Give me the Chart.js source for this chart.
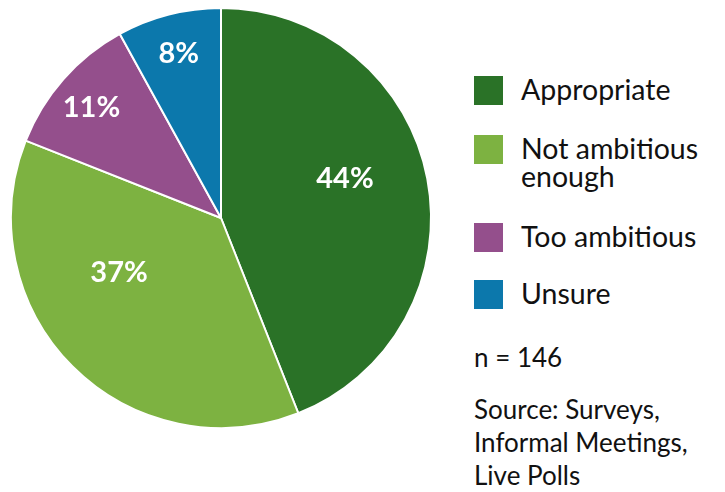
<!DOCTYPE html>
<html>
<head>
<meta charset="utf-8">
<script src="https://cdn.jsdelivr.net/npm/chart.js@4"></script>
<style>
  body { margin: 0; background: #fff; width: 725px; height: 492px; overflow: hidden; font-family: Lato, sans-serif; }
  #wrap { position: absolute; left: 0; top: 0; width: 442px; height: 436px; }
  #legend { position: absolute; left: 474px; top: 0; color: #111; font-size: 28.5px; }
  .item { position: absolute; left: 0; white-space: nowrap; line-height: 29px; }
  .box { position: absolute; left: 0; width: 29px; height: 29px; }
  .txt { position: absolute; left: 47px; }
  .note { position: absolute; left: 0; white-space: nowrap; line-height: 33px; font-size: 26px; }
</style>
</head>
<body>
<div id="wrap"><canvas id="myChart"></canvas></div>
<div id="legend"></div>
<script>
// dados
var categorias = ['Appropriate', 'Not ambitious enough', 'Too ambitious', 'Unsure'];
var legendaLinhas = [['Appropriate'], ['Not ambitious', 'enough'], ['Too ambitious'], ['Unsure']];
var valores = [44, 37, 11, 8];
var rotulos = ['44%', '37%', '11%', '8%'];
var cores = ['#2a7227', '#7db241', '#944f8c', '#0c78ac'];
var nota = 'n = 146';
var fonte = ['Source: Surveys,', 'Informal Meetings,', 'Live Polls'];

// onde fica cada rotulo (fracao do raio e ajuste de angulo em graus)
var rotuloRaio = [0.62, 0.55, 0.81, 0.81];
var rotuloAjuste = [-7, 17, -1, 0];

var rotulosPlugin = {
  id: 'rotulos',
  afterDatasetsDraw: function (chart) {
    var ctx = chart.ctx;
    var meta = chart.getDatasetMeta(0);
    ctx.save();
    ctx.fillStyle = '#fff';
    ctx.font = 'bold 29px Lato, sans-serif';
    ctx.textAlign = 'center';
    ctx.textBaseline = 'middle';
    for (var i = 0; i < meta.data.length; i++) {
      var arc = meta.data[i];
      var ang = (arc.startAngle + arc.endAngle) / 2 + rotuloAjuste[i] * Math.PI / 180;
      var r = arc.outerRadius * rotuloRaio[i];
      ctx.fillText(rotulos[i], arc.x + Math.cos(ang) * r, arc.y + Math.sin(ang) * r);
    }
    ctx.restore();
  }
};

var ctx = document.getElementById('myChart').getContext('2d');
var chart = new Chart(ctx, {
  type: 'pie',
  data: {
    labels: categorias,
    datasets: [{
      data: valores,
      backgroundColor: cores,
      borderColor: '#fff',
      borderWidth: 2
    }]
  },
  options: {
    responsive: true,
    maintainAspectRatio: false,
    animation: false,
    layout: { padding: 7 },
    plugins: {
      legend: { display: false },
      tooltip: { enabled: false }
    }
  },
  plugins: [rotulosPlugin]
});

// legenda
var leg = document.getElementById('legend');
var topos = [[76], [135, 163], [223], [280]];
for (var i = 0; i < categorias.length; i++) {
  var box = document.createElement('div');
  box.className = 'box';
  box.style.top = topos[i][0] + 'px';
  box.style.background = cores[i];
  leg.appendChild(box);
  for (var j = 0; j < legendaLinhas[i].length; j++) {
    var t = document.createElement('div');
    t.className = 'item txt';
    t.style.top = (topos[i][j] - 1) + 'px';
    t.textContent = legendaLinhas[i][j];
    leg.appendChild(t);
  }
}
var n = document.createElement('div');
n.className = 'note';
n.style.top = '341px';
n.textContent = nota;
leg.appendChild(n);
for (var k = 0; k < fonte.length; k++) {
  var f = document.createElement('div');
  f.className = 'note';
  f.style.top = (393 + k * 33) + 'px';
  f.textContent = fonte[k];
  leg.appendChild(f);
}
</script>
</body>
</html>
